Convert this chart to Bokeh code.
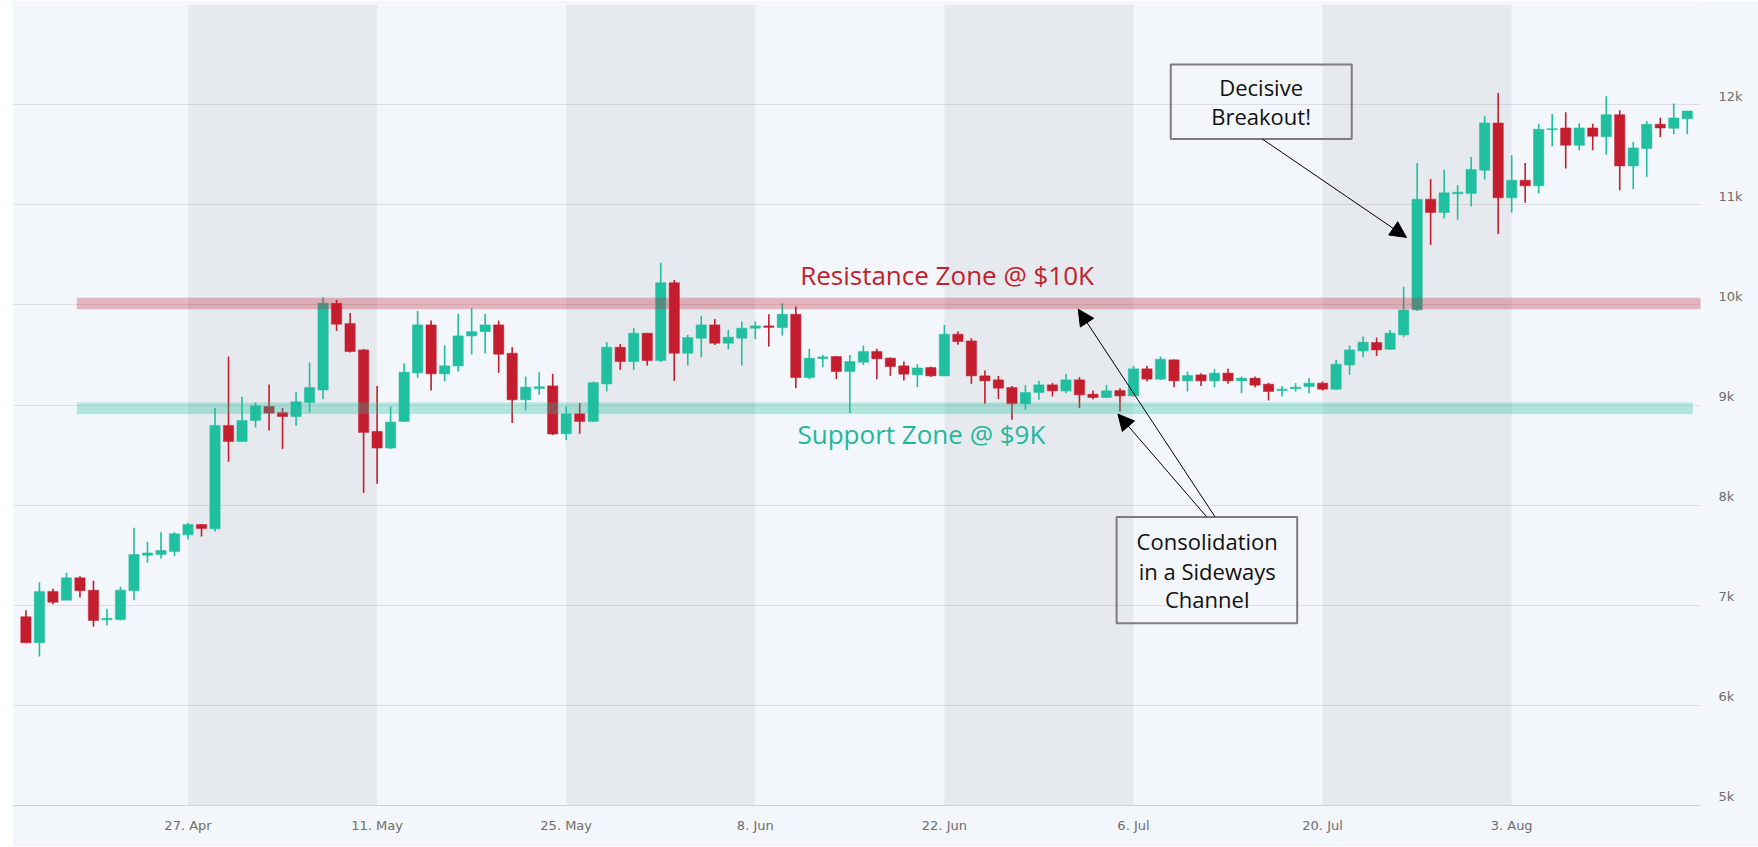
import pandas as pd
from bokeh.plotting import figure
from bokeh.models import (FixedTicker, Arrow, NormalHead, ColumnDataSource,
                          Spacer, BoxAnnotation)
from bokeh.layouts import row
from bokeh.embed import file_html
from bokeh.resources import INLINE
from bokeh.core.properties import value

# ---------------- data (BTC/USD daily, 15 Apr - 16 Aug 2020) ----------------
start_date = "2020-04-15"
end_date = "2020-08-16"

open_ = [6885, 6626, 7138, 7051, 7274, 7150, 6855, 6858, 7145, 7500, 7506, 7536, 7703, 7806, 7763, 8796,
         8636, 8846, 8985, 8925, 8885, 9025, 9151, 10016, 9813, 9550, 8736, 8570, 8836, 9321, 9800, 9311,
         9390, 9690, 9733, 9800, 9517, 9052, 9165, 9191, 8713, 8912, 8836, 9211, 9577, 9434, 9717,
         9444, 10221, 9517, 9667, 9800, 9617, 9667, 9767, 9790, 9773, 9906, 9274, 9464, 9484, 9334, 9427,
         9534, 9468, 9391, 9301, 9374, 9291, 9707, 9640, 9291, 9251, 9174, 9012, 9125, 9201,
         9141, 9251, 9108, 9075, 9144, 9091, 9361, 9258, 9451, 9241, 9301, 9241, 9318, 9241, 9268, 9208,
         9145, 9162, 9185, 9218, 9158, 9400, 9540, 9624, 9557, 9700, 9949, 11056, 10923, 11110, 11113,
         11345, 11817, 11069, 11245, 11189, 11750, 11767, 11594, 11767, 11680, 11900, 11388, 11561, 11804,
         11764, 11860]
high = [6950, 7230, 7164, 7324, 7290, 7244, 6965, 7184, 7773, 7633, 7729, 7729, 7823, 7810, 8969, 9484,
        9082, 9025, 9204, 8970, 9128, 9424, 10076, 10050, 9920, 9560, 9191, 8985, 9417, 9939, 9843, 9596,
        9912, 9966, 9909, 9843, 9577, 9284, 9328, 9311, 8985, 9019, 9234, 9627, 9610, 9767, 9720,
        10421, 10248, 9700, 9890, 9860, 9750, 9833, 9833, 9906, 10016, 9983, 9561, 9500, 9490, 9500, 9594,
        9561, 9475, 9434, 9408, 9385, 9800, 9734, 9667, 9344, 9291, 9191, 9198, 9241, 9221,
        9311, 9278, 9144, 9201, 9168, 9391, 9391, 9484, 9455, 9334, 9318, 9358, 9361, 9284, 9284, 9221,
        9191, 9218, 9268, 9234, 9451, 9593, 9684, 9674, 9750, 10182, 11418, 11256, 11352, 11196, 11478,
        11883, 12116, 11495, 11418, 11810, 11907, 11923, 11814, 11810, 12083, 11943, 11627, 11837, 11870,
        12010, 11940]
low = [6620, 6487, 7011, 7051, 7078, 6785, 6797, 6848, 7051, 7424, 7467, 7490, 7656, 7686, 7737, 8434,
       8636, 8776, 8746, 8560, 8793, 8925, 9058, 9740, 9524, 8122, 8214, 8560, 8830, 9271, 9145, 9238,
       9334, 9504, 9514, 9321, 8819, 8946, 9102, 8700, 8647, 8713, 8830, 9135, 9351, 9351, 9394,
       9430, 9241, 9394, 9477, 9600, 9557, 9394, 9657, 9584, 9694, 9168, 9258, 9378, 9258, 8919, 9400,
       9258, 9291, 9245, 9178, 9280, 9291, 9601, 9211, 9012, 9058, 8852, 8952, 9052, 9085,
       9118, 8969, 9058, 9070, 8935, 9085, 9234, 9250, 9178, 9135, 9191, 9178, 9211, 9118, 9178, 9045,
       9085, 9135, 9118, 9144, 9150, 9301, 9477, 9490, 9550, 9677, 9940, 10597, 10863, 10850, 10986,
       11252, 10707, 10923, 11020, 11113, 11584, 11362, 11544, 11544, 11501, 11146, 11156, 11278, 11674,
       11704, 11704]
close = [6626, 7138, 7031, 7274, 7145, 6848, 6870, 7151, 7506, 7522, 7546, 7713, 7806, 7766, 8796, 8636,
         8846, 8992, 8919, 8885, 9032, 9175, 10016, 9807, 9534, 8726, 8570, 8829, 9328, 9800, 9311, 9391,
         9690, 9733, 9800, 9507, 9052, 9178, 9182, 8710, 8912, 8836, 9224, 9577, 9434, 9717, 9444,
         10221, 9517, 9673, 9800, 9617, 9677, 9767, 9790, 9775, 9906, 9274, 9468, 9480, 9334, 9434, 9534,
         9461, 9384, 9308, 9370, 9291, 9707, 9634, 9291, 9241, 9168, 9012, 9125, 9201, 9141,
         9251, 9101, 9075, 9141, 9091, 9361, 9258, 9457, 9241, 9294, 9241, 9318, 9241, 9268, 9198, 9135,
         9158, 9178, 9218, 9158, 9408, 9550, 9627, 9550, 9717, 9949, 11056, 10923, 11119, 11125, 11352,
         11817, 11069, 11245, 11189, 11754, 11760, 11594, 11767, 11684, 11900, 11388, 11568, 11804, 11767,
         11867, 11936]

# alternate x bands and ticks
band_starts = ["2020-04-27", "2020-05-25", "2020-06-22", "2020-07-20"]
band_ends = ["2020-05-11", "2020-06-08", "2020-07-06", "2020-08-03"]
xtick_dates = ["2020-04-27", "2020-05-11", "2020-05-25", "2020-06-08",
               "2020-06-22", "2020-07-06", "2020-07-20", "2020-08-03"]
xtick_labels = ["27. Apr", "11. May", "25. May", "8. Jun", "22. Jun", "6. Jul", "20. Jul", "3. Aug"]
ytick_values = [5000, 6000, 7000, 8000, 9000, 10000, 11000, 12000]
ytick_labels = ["5k", "6k", "7k", "8k", "9k", "10k", "11k", "12k"]

# zones (price levels)
resistance_zone = (9956, 10070)
support_zone = (8910, 9025)
zone_start_day = -8.23        # days relative to 27 Apr
resistance_end_day = 112.5
support_end_day = 111.4

# annotation anchors: (days relative to 27 Apr, price)
resistance_label = (56.2, 10298, "Resistance Zone @ $10K")
support_label = (54.3, 8713, "Support Zone @ $9K")
breakout_box = (72.76, 86.16, 11657, 12401)
breakout_lines = [(79.45, 12175, "Decisive"), (79.45, 11883, "Breakout!")]
consol_box = (68.75, 82.12, 6819, 7882)
consol_lines = [(75.46, 7639, "Consolidation"), (75.46, 7340, "in a Sideways"), (75.46, 7058, "Channel")]
arrows = [((79.53, 11657), (90.21, 10674)),
          ((76.03, 7885), (65.91, 9956)),
          ((75.41, 7885), (68.85, 8909))]

# ---------------- helpers ----------------
DAY = 86400000
BASE = pd.Timestamp("2020-04-27").value // 10**6


def ms(s):
    return pd.Timestamp(s).value // 10**6


def t(d):
    return BASE + d * DAY


GREEN = "#1fbf9f"
RED = "#c41e2e"
BG = "#f3f6fa"

dates = pd.date_range(start_date, end_date, freq="D")
colors = [GREEN if c >= o else RED for o, c in zip(open_, close)]
src = ColumnDataSource(dict(
    x=dates, open=open_, high=high, low=low, close=close,
    top=[max(o, c) for o, c in zip(open_, close)],
    bottom=[min(o, c) for o, c in zip(open_, close)],
    color=colors))

p = figure(x_axis_type="datetime", y_axis_location="right",
           frame_width=1687, frame_height=801,
           min_border_left=1, min_border_right=58, min_border_top=4, min_border_bottom=41,
           x_range=(t(-12.92), t(111.98)), y_range=(5000, 13000),
           output_backend="svg", toolbar_location=None,
           background_fill_color=BG, border_fill_color=BG)
p.outline_line_color = None

# alternate bands
for s, e in zip(band_starts, band_ends):
    p.add_layout(BoxAnnotation(left=ms(s), right=ms(e), fill_color="#000000", fill_alpha=0.05,
                               line_alpha=0, level="underlay"))

# grid / axes
p.xgrid.visible = False
p.ygrid.ticker = FixedTicker(ticks=ytick_values)
p.ygrid.grid_line_color = "#dcdee2"
p.ygrid.grid_line_width = 1

p.xaxis.ticker = FixedTicker(ticks=[ms(d) for d in xtick_dates])
p.xaxis.major_label_overrides = {ms(d): lab for d, lab in zip(xtick_dates, xtick_labels)}
p.xaxis.axis_line_color = "#cfd3d8"
p.xaxis.major_tick_line_color = None
p.xaxis.minor_tick_line_color = None
p.xaxis.major_tick_out = 0
p.xaxis.major_label_standoff = 12
p.xaxis.major_label_text_font = "DejaVu Sans"
p.xaxis.major_label_text_font_size = "13px"
p.xaxis.major_label_text_color = "#6e6e6e"

label_shift = 85  # labels sit slightly above their grid line
yax = p.yaxis[0]
yax.ticker = FixedTicker(ticks=[v + label_shift for v in ytick_values])
yax.major_label_overrides = {v + label_shift: lab for v, lab in zip(ytick_values, ytick_labels)}
yax.axis_line_color = None
yax.major_tick_line_color = None
yax.minor_tick_line_color = None
yax.major_tick_out = 0
yax.major_label_standoff = 18
yax.major_label_text_font = "DejaVu Sans"
yax.major_label_text_font_size = "13px"
yax.major_label_text_color = "#6e6e6e"

# candles
p.segment(x0="x", x1="x", y0="low", y1="high", color="color", line_width=1.6, source=src)
p.vbar(x="x", top="top", bottom="bottom", width=0.76 * DAY, fill_color="color",
       line_color="color", line_width=0.5, source=src)

# zones
p.quad(left=[t(zone_start_day)], right=[t(resistance_end_day)],
       bottom=[resistance_zone[0]], top=[resistance_zone[1]],
       fill_color="#c81e32", fill_alpha=0.3, line_alpha=0)
p.quad(left=[t(zone_start_day)], right=[t(support_end_day)],
       bottom=[support_zone[0]], top=[support_zone[1]],
       fill_color="#1ebea0", fill_alpha=0.3, line_alpha=0)

# zone labels
p.text(x=[t(resistance_label[0])], y=[resistance_label[1]], text=[resistance_label[2]],
       text_align="center", text_baseline="middle", text_font=value("Open Sans"),
       text_font_size="26px", text_color="#c0212f")
p.text(x=[t(support_label[0])], y=[support_label[1]], text=[support_label[2]],
       text_align="center", text_baseline="middle", text_font=value("Open Sans"),
       text_font_size="26px", text_color="#22b89e")

# boxes
for (d0, d1, v0, v1) in [breakout_box, consol_box]:
    p.quad(left=[t(d0)], right=[t(d1)], bottom=[v0], top=[v1],
           fill_alpha=0, line_color="#7d7d7d", line_width=2)

for lines in [breakout_lines, consol_lines]:
    p.text(x=[t(d) for d, _, _ in lines], y=[v for _, v, _ in lines], text=[s for _, _, s in lines],
           text_align="center", text_baseline="middle", text_font=value("Open Sans"),
           text_font_size="22px", text_color="#111111")

# arrows
for (a, b) in arrows:
    p.add_layout(Arrow(end=NormalHead(size=16, fill_color="black", line_color="black"),
                       x_start=t(a[0]), y_start=a[1], x_end=t(b[0]), y_end=b[1],
                       line_color="black", line_width=1))

layout = row(Spacer(width=12, height=846), p)
open("out.html", "w").write(file_html(layout, INLINE))
